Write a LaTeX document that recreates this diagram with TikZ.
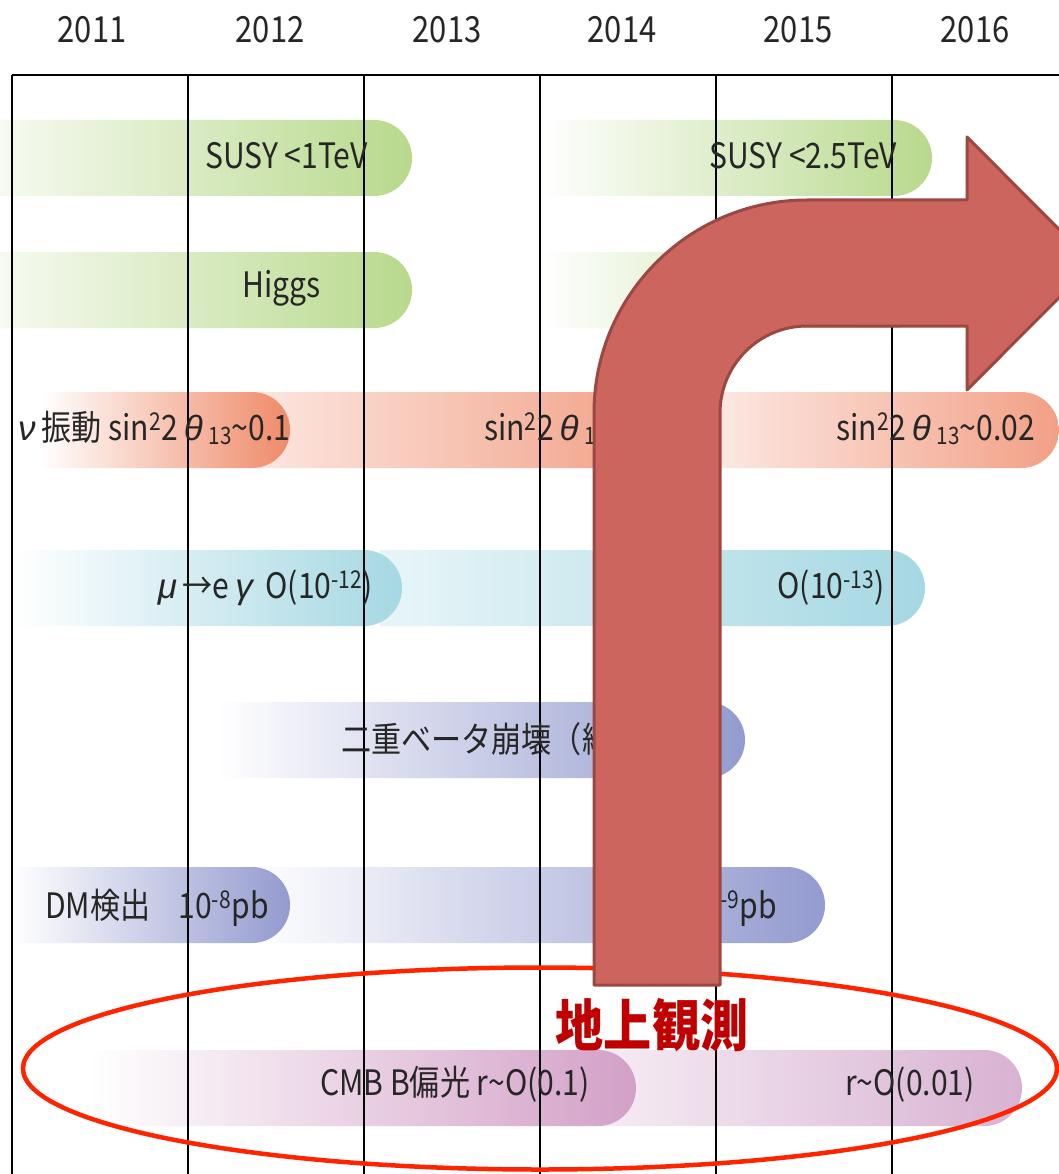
\documentclass[tikz,border=0pt]{standalone}
\usepackage{fontspec}
\setmainfont{Noto Sans CJK JP}[FakeStretch=0.86]
\newfontfamily\grk{Liberation Sans}
\usetikzlibrary{shapes.misc}
\definecolor{gr}{HTML}{B8D98C}
\definecolor{sal}{HTML}{EF8A68}
\definecolor{sal2}{HTML}{F2A086}
\definecolor{bl}{HTML}{A5D8E3}
\definecolor{pu}{HTML}{939BCF}
\definecolor{mg}{HTML}{D3A0C7}
\definecolor{mg2}{HTML}{D8B2D2}
\definecolor{arr}{HTML}{CC655E}
\definecolor{arrb}{HTML}{9C4842}
\definecolor{lab}{HTML}{C00000}
\definecolor{ell}{HTML}{FF2400}
\newcommand\subx[1]{\raisebox{-0.12em}{\fontsize{24}{26}\selectfont #1}}
\newcommand\gk[1]{{\grk\itshape #1}}
\tikzset{
  bar/.style={shape=rounded rectangle, rounded rectangle left arc=none,
    minimum height=76pt, inner sep=0pt, draw=none, left color=white},
  lbl/.style={anchor=base west, inner sep=0pt, font=\fontsize{35}{40}\selectfont, text=black!85},
  lble/.style={lbl, anchor=base east},
  year/.style={anchor=base, inner sep=0pt, font=\fontsize{36}{40}\selectfont, text=black!85},
  gridline/.style={draw=black, line width=1.6pt},
  arrowbody/.style={fill=arr, draw=arrb, line width=3pt, line join=round},
}
\begin{document}
\begin{tikzpicture}[x=1pt,y=-1pt]
\useasboundingbox (0,0) rectangle (1059,1174);
\clip (0,0) rectangle (1059,1174);
\fill[white] (0,0) rectangle (1059,1174);

% years
\node[year] (y11) at (92,43) {2011};
\node[year] (y12) at (270,43) {2012};
\node[year] (y13) at (447,43) {2013};
\node[year] (y14) at (622,43) {2014};
\node[year] (y15) at (798,43) {2015};
\node[year] (y16) at (975,43) {2016};

% bars row 1
\node[bar, right color=gr, minimum width=472pt] (b1a) at (176,158) {};
\node[bar, right color=gr, minimum width=392pt] (b1b) at (736,158) {};
% row 2
\node[bar, right color=gr, minimum width=472pt] (b2a) at (176,290) {};
\node[bar, right color=gr, minimum width=392pt] (b2b) at (736,290) {};
% row 3
\node[bar, left color=sal2!25, right color=sal2, minimum width=410pt] (b3b) at (455,430) {};
\node[bar, left color=sal2!12, right color=sal2, minimum width=399pt] (b3c) at (859.5,430) {};
\node[bar, right color=sal, minimum width=250pt] (b3a) at (165,430) {};
% row 4
\node[bar, left color=bl!25, right color=bl, minimum width=545pt] (b4b) at (652.5,588) {};
\node[bar, right color=bl, minimum width=390pt] (b4a) at (207,588) {};
% row 5
\node[bar, right color=pu, minimum width=527pt] (b5) at (481.5,740) {};
% row 6
\node[bar, left color=white, right color=pu, minimum width=575pt] (b6b) at (537.5,905) {};
\node[bar, left color=white, right color=pu, minimum width=278pt] (b6a) at (151,905) {};
% row 7
\node[bar, left color=mg2!25, right color=mg2, minimum width=422pt] (b7b) at (811,1088) {};
\node[bar, right color=mg, minimum width=546pt] (b7a) at (363,1088) {};

% grid
\draw[black, line width=2.6pt] (12,75) -- (1059,75);
\foreach \x in {12,188,364,540,716,892}
  \draw[gridline] (\x,75) -- (\x,1174);

% labels
\node[lbl] (t1a) at (205,169) {SUSY <1TeV};
\node[lble] (t1b) at (897,169) {SUSY <2.5TeV};
\node[lbl] (t2a) at (242,297) {Higgs};
\node[lbl] (t3a) at (18,440) {\gk{ν}\,振動 sin\textsuperscript{2}2\,\gk{θ}\,\subx{13}\textasciitilde0.1};
\node[lbl] (t3b) at (484,440) {sin\textsuperscript{2}2\,\gk{θ}\,\subx{13}\textasciitilde0.05};
\node[lble] (t3c) at (1035,440) {sin\textsuperscript{2}2\,\gk{θ}\,\subx{13}\textasciitilde0.02};
\node[lble] (t4a) at (373,598) {\gk{μ}\,→e\,\gk{γ}\, O(10\textsuperscript{-12})};
\node[lble] (t4b) at (885,598) {O(10\textsuperscript{-13})};
\node[lbl] (t5) at (341,752) {二重ベータ崩壊（縮退）};
\node[lbl] (t6a) at (45,918) {DM検出\hspace{0.8em}10\textsuperscript{-8}pb};
\node[lble] (t6b) at (777,918) {10\textsuperscript{-9}pb};
\node[lble] (t7a) at (590,1095) {CMB B偏光 r\textasciitilde O(0.1)};
\node[lble] (t7b) at (975,1095) {r\textasciitilde O(0.01)};

% ellipse
\draw[ell, line width=4.5pt] (540,1068.5) ellipse [x radius=517, y radius=101];

% bent arrow
\draw[arrowbody] (594,985) -- (594,413) arc[start angle=180,end angle=270,radius=213]
  -- (967,200) -- (967,137) -- (1093,263.5) -- (967,390) -- (967,326) -- (807,326)
  arc[start angle=270,end angle=180,radius=87] -- (720,985) -- cycle;

\node[text=lab, font=\fontsize{56}{60}\selectfont\bfseries, inner sep=0pt] (ground) at (652,1025) {地上観測};
\end{tikzpicture}
\end{document}
